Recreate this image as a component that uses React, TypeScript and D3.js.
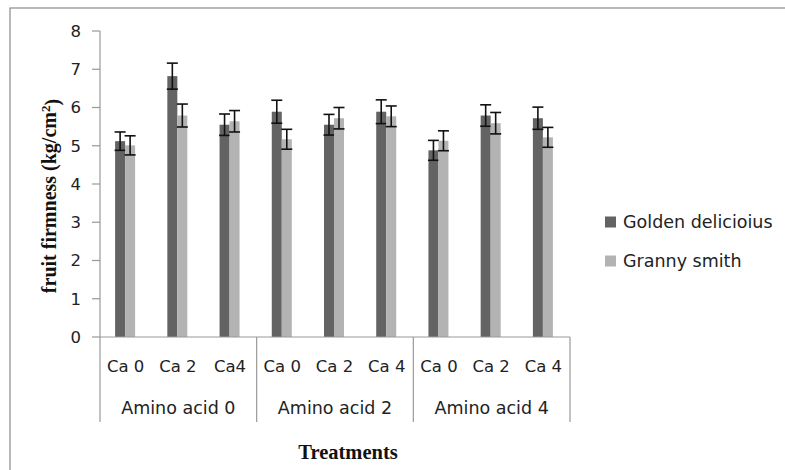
import React from "react";
import * as d3 from "d3";

const groups = ["Amino acid 0", "Amino acid 2", "Amino acid 4"];
const caLabels = ["Ca 0", "Ca 2", "Ca4", "Ca 0", "Ca 2", "Ca 4", "Ca 0", "Ca 2", "Ca 4"];
const series = ["Golden delicioius", "Granny smith"];
const golden = [5.12, 6.82, 5.55, 5.89, 5.55, 5.89, 4.88, 5.79, 5.72];
const goldenErr = [0.24, 0.34, 0.28, 0.30, 0.27, 0.31, 0.26, 0.28, 0.29];
const granny = [5.01, 5.79, 5.64, 5.17, 5.72, 5.77, 5.13, 5.59, 5.22];
const grannyErr = [0.25, 0.30, 0.28, 0.26, 0.28, 0.27, 0.26, 0.28, 0.26];
const yTicks = [0, 1, 2, 3, 4, 5, 6, 7, 8];
const colors = ["#636363", "#b3b3b3"];

export default function App() {
  const W = 785, H = 470;
  const x0 = 100, x1 = 570, yTop = 31, yBot = 337;
  const y = d3.scaleLinear().domain([0, 8]).range([yBot, yTop]);
  const idx = caLabels.map((_, i) => i);
  const x = d3.scaleBand<number>().domain(idx).range([x0, x1]).padding(0);
  const step = x.step();
  const xs = d3.scaleBand<string>().domain(series).range([step / 2 - 11, step / 2 + 9]);
  const gx = d3.scaleBand<string>().domain(groups).range([x0, x1]);
  const values = [golden, granny];
  const errs = [goldenErr, grannyErr];
  const sans = "DejaVu Sans";
  return (
    <svg width={W} height={H} style={{ position: "absolute", left: 0, top: 0, background: "#fff" }}>
      <rect x={10} y={8} width={790} height={480} fill="#fff" stroke="#8a8a8a" strokeWidth={1.2} />
      {/* y axis */}
      <line x1={x0} x2={x0} y1={yTop} y2={yBot} stroke="#999" strokeWidth={1.2} />
      {yTicks.map((t) => (
        <g key={t}>
          <line x1={x0 - 8} x2={x0} y1={y(t)} y2={y(t)} stroke="#999" strokeWidth={1.2} />
          <text x={x0 - 19} y={y(t)} dy="0.36em" textAnchor="end" fontFamily={sans} fontSize={16.5} fill="#222">{t}</text>
        </g>
      ))}
      {/* bars */}
      {series.map((s, si) =>
        values[si].map((v, i) => {
          const bx = (x(i) as number) + (xs(s) as number);
          const bw = xs.bandwidth();
          const cx = bx + bw / 2;
          const e = errs[si][i];
          return (
            <g key={s + i}>
              <rect x={bx} y={y(v)} width={bw} height={yBot - y(v)} fill={colors[si]} />
              <line x1={cx} x2={cx} y1={y(v + e)} y2={y(v - e)} stroke="#111" strokeWidth={1.6} />
              <line x1={cx - 5.5} x2={cx + 5.5} y1={y(v + e)} y2={y(v + e)} stroke="#111" strokeWidth={1.6} />
              <line x1={cx - 5.5} x2={cx + 5.5} y1={y(v - e)} y2={y(v - e)} stroke="#111" strokeWidth={1.6} />
            </g>
          );
        })
      )}
      {/* x axis */}
      <line x1={x0} x2={x1} y1={yBot} y2={yBot} stroke="#999" strokeWidth={1.2} />
      {[x0, ...groups.map((g) => (gx(g) as number) + gx.bandwidth())].map((px, i) => (
        <line key={i} x1={px} x2={px} y1={yBot} y2={422} stroke="#999" strokeWidth={1.2} />
      ))}
      {caLabels.map((c, i) => (
        <text key={i} x={(x(i) as number) + step / 2 - 0.5} y={366} dy="0.36em" textAnchor="middle" fontFamily={sans} fontSize={16.5} fill="#222">{c}</text>
      ))}
      {groups.map((g) => (
        <text key={g} x={(gx(g) as number) + gx.bandwidth() / 2} y={408} dy="0.36em" textAnchor="middle" fontFamily={sans} fontSize={17.5} fill="#222">{g}</text>
      ))}
      {/* axis titles */}
      <text x={348} y={452} dy="0.36em" textAnchor="middle" fontFamily="Liberation Serif" fontWeight="bold" fontSize={20.5} fill="#111">Treatments</text>
      <text transform="translate(49,196) rotate(-90)" dy="0.36em" textAnchor="middle" fontFamily="Liberation Serif" fontWeight="bold" fontSize={20} fill="#111">
        fruit firmness (kg/cm<tspan dy="-0.45em" fontSize={13}>2</tspan><tspan dy="0.45em">)</tspan>
      </text>
      {/* legend */}
      {series.map((s, i) => (
        <g key={s} transform={`translate(605,${222 + i * 39})`}>
          <rect x={0} y={-5.5} width={11} height={11} fill={colors[i]} />
          <text x={18} y={0} dy="0.36em" fontFamily={sans} fontSize={17.5} fill="#222">{s}</text>
        </g>
      ))}
    </svg>
  );
}
